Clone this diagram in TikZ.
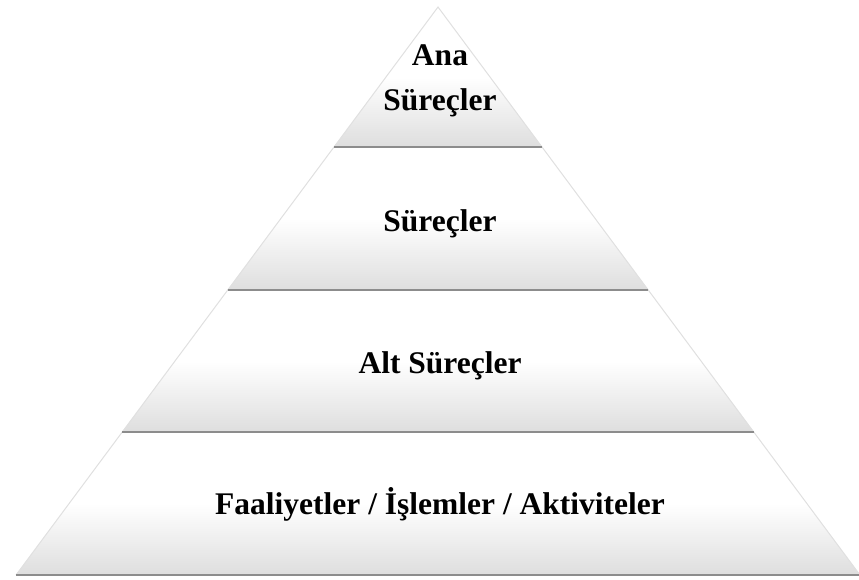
\documentclass[tikz,border=0pt]{standalone}
\usepackage{fontspec}
\setmainfont{Liberation Serif}
\begin{document}
\begin{tikzpicture}[x=1pt,y=1pt,
  band/.style={top color=white, bottom color=black!13, middle color=white, draw=none},
  rim/.style={draw=black!12, line width=1pt},
  sep/.style={draw=black!45, line width=1.4pt},
  label/.style={font=\bfseries\fontsize{31.5}{45}\selectfont, anchor=base, inner sep=0pt, align=center}]
  \useasboundingbox (0,0) rectangle (859,-579);
  % level outlines: apex and the four horizontal cuts
  \coordinate (A)  at (438,-7);
  \coordinate (L1) at (334,-147);   \coordinate (R1) at (542,-147);
  \coordinate (L2) at (227.7,-290); \coordinate (R2) at (648.3,-290);
  \coordinate (L3) at (122.2,-432); \coordinate (R3) at (753.8,-432);
  \coordinate (L4) at (16,-575);    \coordinate (R4) at (860,-575);
  % bands, top to bottom
  \path[band] (A) -- (R1) -- (L1) -- cycle;
  \path[band] (L1) -- (R1) -- (R2) -- (L2) -- cycle;
  \path[band] (L2) -- (R2) -- (R3) -- (L3) -- cycle;
  \path[band] (L3) -- (R3) -- (R4) -- (L4) -- cycle;
  % soft slanted edges
  \draw[rim] (L4) -- (A) -- (R4);
  % lower edges of each band
  \draw[sep] (L1) -- (R1);
  \draw[sep] (L2) -- (R2);
  \draw[sep] (L3) -- (R3);
  \draw[sep] (L4) -- (R4);
  % labels
  \node[label] (t1) at (440,-110) {Ana\\Süreçler};
  \node[label] (t2) at (440,-231) {Süreçler};
  \node[label] (t3) at (440,-373) {Alt Süreçler};
  \node[label] (t4) at (440,-514) {Faaliyetler / İşlemler / Aktiviteler};
\end{tikzpicture}
\end{document}
